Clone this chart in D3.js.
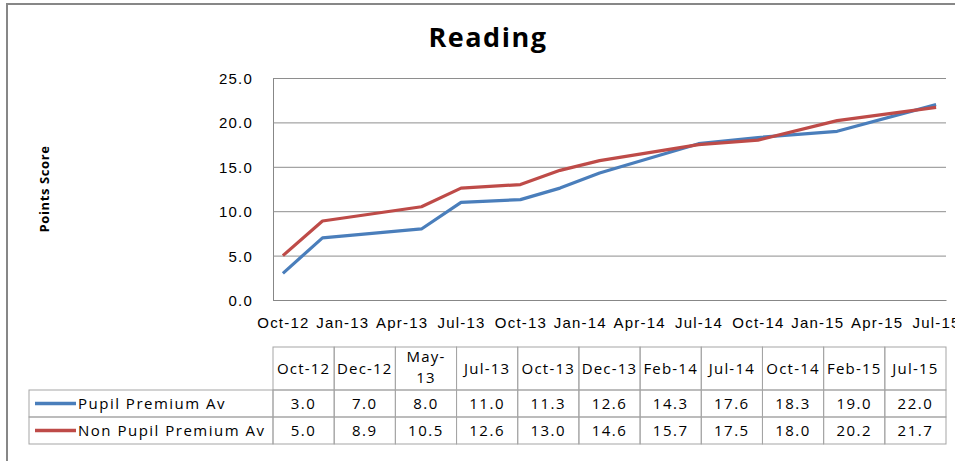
<!DOCTYPE html>
<html>
<head>
<meta charset="utf-8">
<script src="https://cdn.jsdelivr.net/npm/d3@7"></script>
<style>
  body { margin: 0; background: #fff; }
  svg { display: block; font-family: "Open Sans", sans-serif; }
  .axis text { font-size: 15px; letter-spacing: 1.2px; fill: #000; }
  .table text { font-size: 15px; letter-spacing: 1.5px; fill: #000; }
</style>
</head>
<body>
<div id="chart"></div>
<script>
// chart data
var dates = ["Oct-12", "Dec-12", "May-13", "Jul-13", "Oct-13", "Dec-13", "Feb-14", "Jul-14", "Oct-14", "Feb-15", "Jul-15"];
var pupilPremium = [3.0, 7.0, 8.0, 11.0, 11.3, 12.6, 14.3, 17.6, 18.3, 19.0, 22.0];
var nonPupilPremium = [5.0, 8.9, 10.5, 12.6, 13.0, 14.6, 15.7, 17.5, 18.0, 20.2, 21.7];
var seriesNames = ["Pupil Premium Av", "Non Pupil Premium Av"];
var seriesColors = ["#4a7ebb", "#be4b48"];
var yTicks = [0, 5, 10, 15, 20, 25];
var xTickLabels = ["Oct-12", "Jan-13", "Apr-13", "Jul-13", "Oct-13", "Jan-14", "Apr-14", "Jul-14", "Oct-14", "Jan-15", "Apr-15", "Jul-15"];

var width = 955, height = 461;
var margin = {top: 78, right: 9, left: 273};
var plotBottom = 300;
var plotWidth = width - margin.left - margin.right;

var parseDate = d3.timeParse("%b-%y");
var start = parseDate(dates[0]);

// excel date axis with month base unit -> position by month index
function monthIndex(label) {
  return d3.timeMonth.count(start, parseDate(label));
}

var series = [pupilPremium, nonPupilPremium].map(function(values, i) {
  return {
    name: seriesNames[i],
    color: seriesColors[i],
    values: values.map(function(v, j) { return {m: monthIndex(dates[j]), v: v}; })
  };
});

var svg = d3.select("#chart")
  .append("svg")
  .attr("width", width)
  .attr("height", height);

// outer chart border
svg.append("rect")
  .attr("x", 7)
  .attr("y", 4)
  .attr("width", width + 20)
  .attr("height", height + 20)
  .attr("fill", "#fff")
  .attr("stroke", "#878787")
  .attr("stroke-width", 2);

var lastMonth = monthIndex(xTickLabels[xTickLabels.length - 1]);

var x = d3.scaleLinear()
  .domain([-0.5, lastMonth + 0.5])
  .range([margin.left, margin.left + plotWidth]);

var y = d3.scaleLinear()
  .domain([0, 25])
  .range([plotBottom, margin.top]);

// y axis + gridlines
var yAxis = svg.append("g")
  .attr("class", "axis")
  .attr("transform", "translate(" + margin.left + ",0)")
  .call(
    d3.axisLeft(y)
      .tickValues(yTicks)
      .tickSizeInner(-plotWidth)
      .tickSizeOuter(0)
      .tickPadding(20)
      .tickFormat(d3.format(".1f"))
  );
yAxis.select(".domain").attr("stroke", "#878787");
yAxis.selectAll(".tick line").attr("stroke", "#8e8e8e");
yAxis.selectAll(".tick text").attr("dy", "0.36em");

// x axis
var xAxis = svg.append("g")
  .attr("class", "axis")
  .attr("transform", "translate(0," + plotBottom + ")")
  .call(
    d3.axisBottom(x)
      .tickValues(xTickLabels.map(monthIndex))
      .tickSize(0)
      .tickPadding(17)
      .tickFormat(function(m) { return d3.timeFormat("%b-%y")(d3.timeMonth.offset(start, m)); })
  );
xAxis.select(".domain").attr("stroke", "#878787");

// lines
var line = d3.line()
  .x(d => x(d.m))
  .y(d => y(d.v));

svg.selectAll(".series")
  .data(series)
  .enter()
  .append("path")
  .attr("class", "series")
  .attr("fill", "none")
  .attr("stroke", d => d.color)
  .attr("stroke-width", 3.2)
  .attr("stroke-linejoin", "round")
  .attr("d", d => line(d.values));

// title
svg.append("text")
  .attr("x", 488)
  .attr("y", 47)
  .attr("text-anchor", "middle")
  .style("font-size", "27px")
  .style("font-weight", "bold")
  .style("letter-spacing", "1.5px")
  .text("Reading");

// y axis label
svg.append("text")
  .attr("transform", "translate(49,189) rotate(-90)")
  .attr("text-anchor", "middle")
  .style("font-size", "13px")
  .style("font-weight", "bold")
  .style("letter-spacing", "0.6px")
  .text("Points Score");

// data table
var col = d3.scaleBand()
  .domain(dates)
  .range([margin.left, margin.left + plotWidth]);

var rowTop = [347, 390, 417, 444];
var legendLeft = 29;
var table = svg.append("g").attr("class", "table");
var gridColor = "#a5a5a5";

// header cells
table.selectAll(".hcell")
  .data(dates)
  .enter()
  .append("rect")
  .attr("class", "hcell")
  .attr("x", d => col(d))
  .attr("y", rowTop[0])
  .attr("width", col.bandwidth())
  .attr("height", rowTop[1] - rowTop[0])
  .attr("fill", "none")
  .attr("stroke", gridColor);

var header = table.selectAll(".htext")
  .data(dates)
  .enter()
  .append("text")
  .attr("class", "htext")
  .attr("text-anchor", "middle")
  .attr("x", d => col(d) + col.bandwidth() / 2)
  .attr("y", (rowTop[0] + rowTop[1]) / 2 + 5)
  .style("letter-spacing", "1.2px")
  .text(d => d);

// wrap headers wider than their cell, like excel does
header.each(function(d) {
  var t = d3.select(this);
  if (this.getComputedTextLength() > col.bandwidth() - 5) {
    var cx = t.attr("x");
    t.text(null).attr("y", null);
    t.append("tspan").attr("x", cx).attr("y", 362).text(d.split("-")[0] + "-");
    t.append("tspan").attr("x", cx).attr("y", 383).text(d.split("-")[1]);
  }
});

// body rows
series.forEach(function(s, i) {
  var top = rowTop[i + 1], bottom = rowTop[i + 2];
  var mid = (top + bottom) / 2;

  table.append("rect")
    .attr("x", legendLeft)
    .attr("y", top)
    .attr("width", margin.left - legendLeft)
    .attr("height", bottom - top)
    .attr("fill", "none")
    .attr("stroke", gridColor);

  table.append("line")
    .attr("x1", 35)
    .attr("x2", 76)
    .attr("y1", mid)
    .attr("y2", mid)
    .attr("stroke", s.color)
    .attr("stroke-width", 3.5);

  table.append("text")
    .attr("x", 78)
    .attr("y", mid + 5)
    .text(s.name);

  table.selectAll(".cell" + i)
    .data(s.values)
    .enter()
    .append("rect")
    .attr("x", (d, j) => col(dates[j]))
    .attr("y", top)
    .attr("width", col.bandwidth())
    .attr("height", bottom - top)
    .attr("fill", "none")
    .attr("stroke", gridColor);

  table.selectAll(".val" + i)
    .data(s.values)
    .enter()
    .append("text")
    .attr("text-anchor", "middle")
    .attr("x", (d, j) => col(dates[j]) + col.bandwidth() / 2)
    .attr("y", mid + 5)
    .text(d => d3.format(".1f")(d.v));
});
</script>
</body>
</html>
